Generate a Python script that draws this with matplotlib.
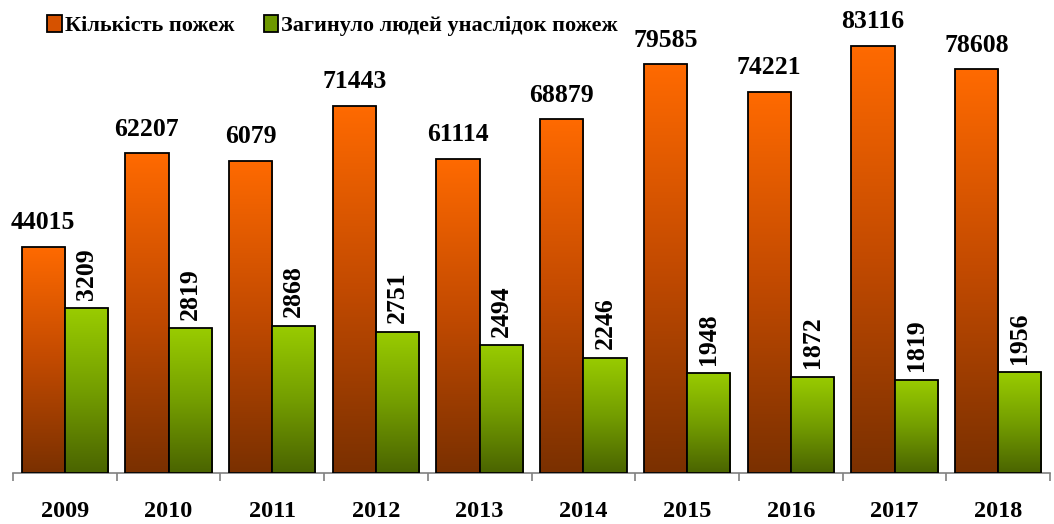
import numpy as np
import matplotlib
matplotlib.use("Agg")
import matplotlib.pyplot as plt
from matplotlib.colors import LinearSegmentedColormap
from matplotlib.patches import Patch

plt.rcParams['font.family'] = ['Liberation Serif', 'DejaVu Serif']
plt.rcParams['font.weight'] = 'bold'

years = ['2009', '2010', '2011', '2012', '2013', '2014', '2015', '2016', '2017', '2018']
fires = [44015, 62207, 60790, 71443, 61114, 68879, 79585, 74221, 83116, 78608]
fires_text = ['44015', '62207', '6079', '71443', '61114', '68879', '79585', '74221', '83116', '78608']
deaths = [3209, 2819, 2868, 2751, 2494, 2246, 1948, 1872, 1819, 1956]
legend_labels = ['Кількість пожеж', 'Загинуло людей унаслідок пожеж']

orange_cmap = LinearSegmentedColormap.from_list('orange', ['#7a3000', '#c24a00', '#ff6a00'])
green_cmap = LinearSegmentedColormap.from_list('green', ['#4a6400', '#749e00', '#99cc00'])

fig = plt.figure(figsize=(10.54, 5.24), dpi=100)
ax = fig.add_axes([0.0123, 0.0973, 0.984, 0.865])
ax2 = ax.twinx()

x = np.arange(len(years))
w = 0.417
ymax = 88200

grad = np.linspace(0, 1, 256).reshape(-1, 1)


def gradient_bars(axis, xs, vals, cmap):
    bars = axis.bar(xs, vals, width=w, facecolor='none', edgecolor='black',
                    linewidth=1.3, zorder=3)
    for b in bars:
        x0, y0 = b.get_x(), b.get_y()
        im = axis.imshow(grad, cmap=cmap, origin='lower', aspect='auto',
                         extent=[x0, x0 + b.get_width(), y0, y0 + b.get_height()],
                         zorder=2)
        im.set_clip_path(b)
    return bars


gradient_bars(ax, x - w / 2, fires, orange_cmap)
gradient_bars(ax2, x + w / 2, deaths, green_cmap)

for xi, v, t in zip(x, fires, fires_text):
    ax.annotate(t, (xi - w / 2, v), xytext=(0, 9), textcoords='offset points',
                ha='center', va='bottom', fontsize=18.5, fontweight='bold')
for xi, v in zip(x, deaths):
    ax2.annotate(str(v), (xi + w / 2, v), xytext=(0, 6), textcoords='offset points',
                 ha='center', va='bottom', rotation=90, fontsize=18.5, fontweight='bold')

for a in (ax, ax2):
    a.set_xlim(-0.5, len(years) - 0.5)
    for s in ('top', 'right', 'left'):
        a.spines[s].set_visible(False)
ax.set_ylim(0, ymax)
ax2.set_ylim(0, ymax / 10)
ax.set_yticks([])
ax2.set_yticks([])
ax2.spines['bottom'].set_visible(False)

ax.spines['bottom'].set_color('#808080')
ax.spines['bottom'].set_linewidth(1.2)
ax.set_xticks(x)
ax.set_xticklabels(years, fontsize=17.5, fontweight='bold')
ax.tick_params(axis='x', which='major', length=0, pad=20)
ax.set_xticks(np.arange(len(years) + 1) - 0.5, minor=True)
ax.tick_params(axis='x', which='minor', length=6, width=1.2, color='#808080')

handles = [Patch(facecolor='#d65200', edgecolor='black', linewidth=1.3),
           Patch(facecolor='#6e9800', edgecolor='black', linewidth=1.3)]
fig.legend(handles, legend_labels, loc='center left', bbox_to_anchor=(0.026, 0.952),
           ncol=2, frameon=False, handlelength=0.65, handleheight=0.8, handletextpad=0.15,
           columnspacing=1.3, prop={'family': 'Liberation Serif', 'weight': 'bold', 'size': 16})

fig.savefig('out.png', dpi=100)
